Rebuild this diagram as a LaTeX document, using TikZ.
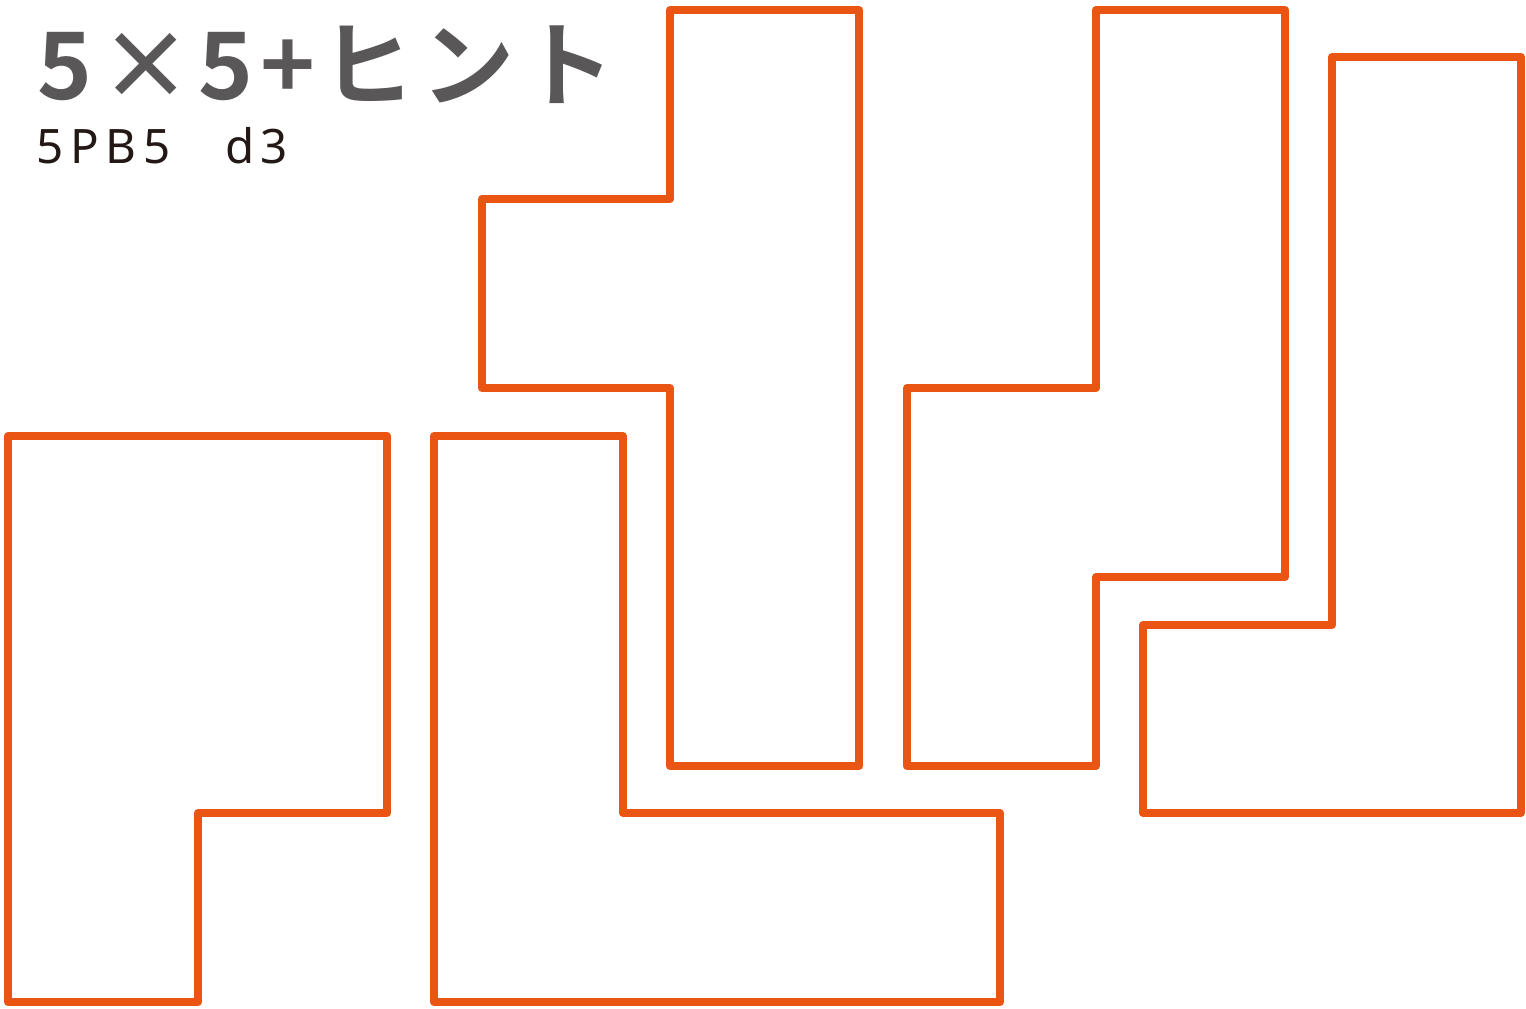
\documentclass[tikz,border=0pt]{standalone}
\usepackage{fontspec}
\newfontfamily\titlefont[LetterSpace=7,BoldFont={* Bold}]{Noto Sans CJK JP}
\newfontfamily\codefont[LetterSpace=14]{Noto Sans}
\definecolor{pieceorange}{HTML}{EA5514}
\definecolor{titlegray}{HTML}{595757}
\definecolor{codeblack}{HTML}{231815}
\tikzset{
  piece/.style={draw=pieceorange, line width=0.08cm, line join=round},
}
\begin{document}
\begin{tikzpicture}[x=0.01cm, y=-0.01cm]
	\useasboundingbox (0,0) rectangle (1526,1008);
	
	\node[anchor=base west, inner sep=0pt, text=titlegray] (title) at (37,99)
		{\titlefont\bfseries\fontsize{26.5pt}{27pt}\selectfont 5×5+ヒント};
	\node[anchor=base west, inner sep=0pt, text=codeblack] (code) at (36,163)
		{\codefont\fontsize{13.5pt}{14pt}\selectfont 5PB5\hspace{1.15em}d3};
	
	% pieces
	\draw[piece] (8,436) -- (387,436) -- (387,813) -- (198,813)
		-- (198,1002) -- (8,1002) -- cycle;
	\draw[piece] (434,436) -- (623,436) -- (623,813) -- (1000,813)
		-- (1000,1002) -- (434,1002) -- cycle;
	\draw[piece] (670,10) -- (859,10) -- (859,766) -- (670,766)
		-- (670,388) -- (482,388) -- (482,199) -- (670,199) -- cycle;
	\draw[piece] (1096,10) -- (1285,10) -- (1285,577) -- (1096,577)
		-- (1096,766) -- (907,766) -- (907,388) -- (1096,388) -- cycle;
	\draw[piece] (1332,57) -- (1521,57) -- (1521,813) -- (1143,813)
		-- (1143,625) -- (1332,625) -- cycle;
\end{tikzpicture}
\end{document}
